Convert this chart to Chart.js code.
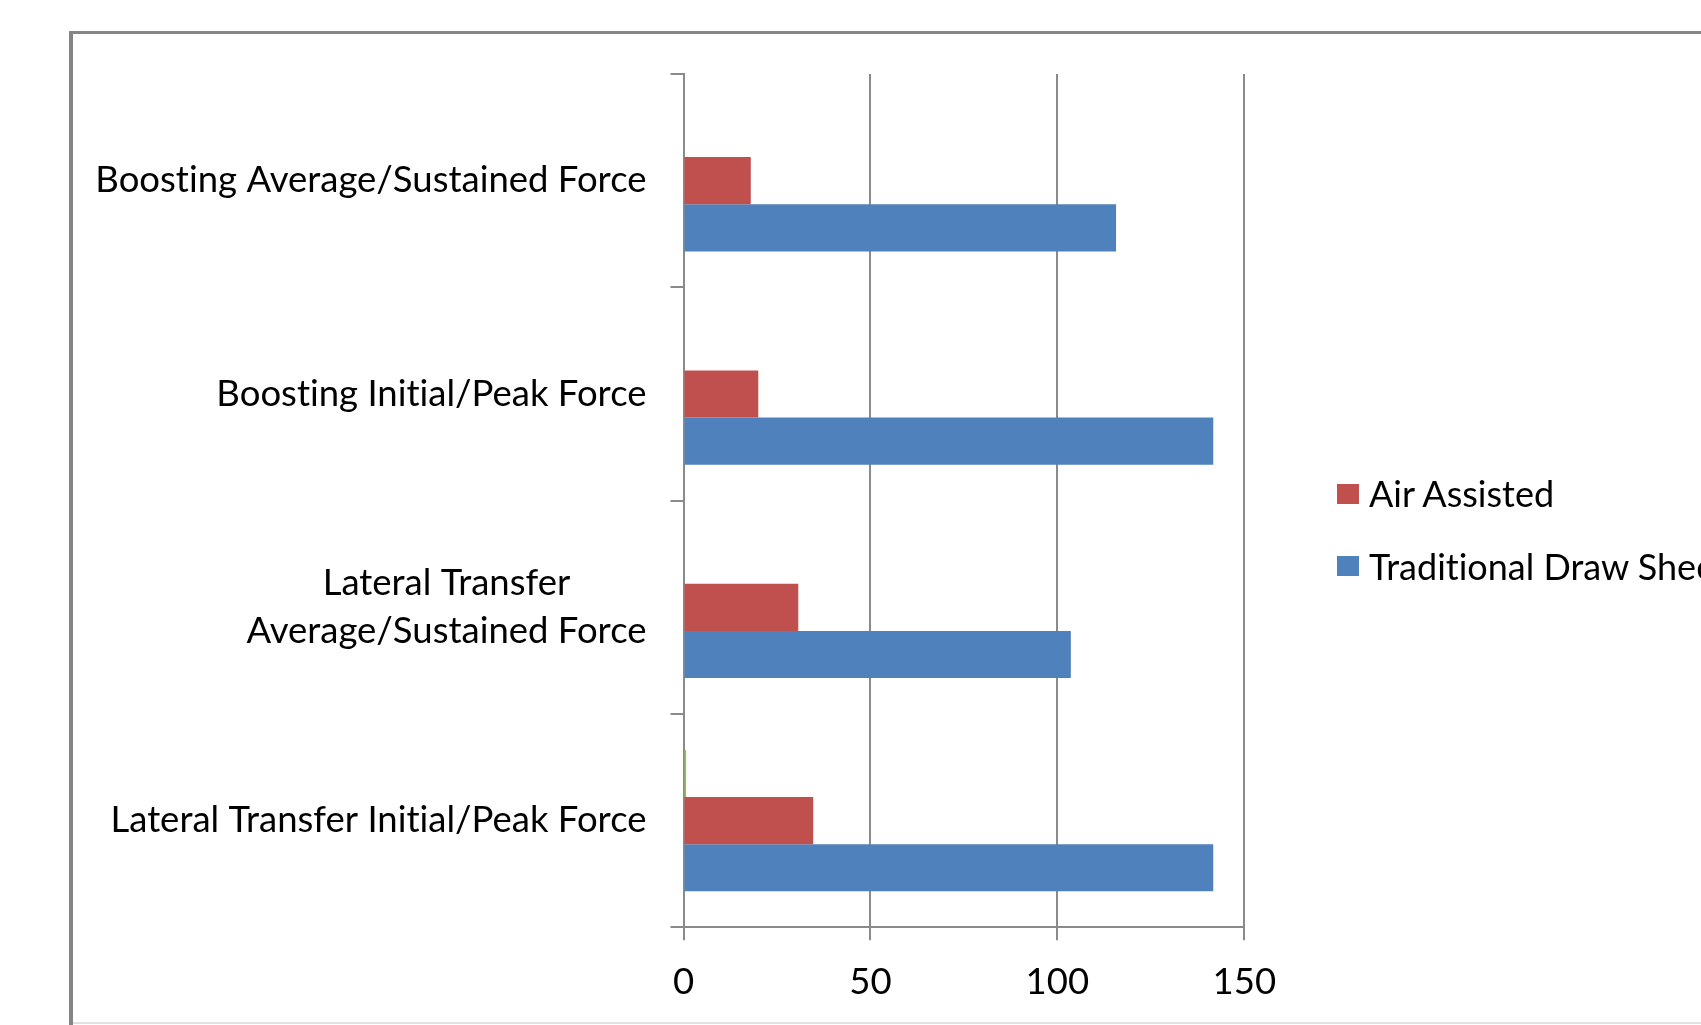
<!DOCTYPE html>
<html>
<head>
<meta charset="utf-8">
<script src="https://cdn.jsdelivr.net/npm/chart.js@4"></script>
<style>
    html, body { margin: 0; padding: 0; width: 1701px; height: 1025px; overflow: hidden; background: #fff; }
    #frame { position: absolute; left: 69px; top: 31px; width: 1800px; height: 1100px;
             border-left: 4px solid #858585; border-top: 3px solid #858585; box-sizing: border-box; }
    #bottomLine { position: absolute; left: 73px; top: 1022px; width: 1700px; height: 2px; background: #e2e2e2; }
    #chart { position: absolute; left: 0; top: 0; }
    #legend { position: absolute; left: 1337px; top: 476px; font: 36px Lato, sans-serif; color: #000;
              white-space: nowrap; font-variant-ligatures: none; }
    .item { display: flex; align-items: center; height: 35px; line-height: 35px; margin-bottom: 37.5px; }
    .box { width: 22px; height: 20px; margin-right: 10px; flex: none; }
</style>
</head>
<body>
<div id="frame"></div>
<div id="bottomLine"></div>
<canvas id="chart" width="1701" height="1025"></canvas>
<div id="legend"></div>
<script>
const categories = [
    ["Boosting Average/Sustained Force"],
    ["Boosting Initial/Peak Force"],
    ["Lateral Transfer", "Average/Sustained Force"],
    ["Lateral Transfer Initial/Peak Force"]
];
const series3 = [null, null, null, 0.7];
const airAssisted = [18, 20, 30.7, 34.7];
const traditionalDrawSheet = [115.7, 141.7, 103.6, 141.7];
const xTicks = [0, 50, 100, 150];

const axisGrey = "#8a8a8a";
const labelFont = {family: "Lato", size: 36.5};

// y labels drawn by hand: block right-aligned, lines centred inside it (like Excel)
const catLabels = {
    id: "catLabels",
    afterDraw(chart) {
        const ctx = chart.ctx;
        const y = chart.scales.y;
        const right = chart.chartArea.left - 37;
        const lineH = 47.5;
        ctx.save();
        ctx.font = `${labelFont.size}px ${labelFont.family}`;
        ctx.textRendering = "optimizeSpeed";
        ctx.fillStyle = "#000";
        ctx.textAlign = "center";
        ctx.textBaseline = "middle";
        chart.data.labels.forEach((lines, i) => {
            const cy = y.getPixelForTick(i);
            const w = Math.max(...lines.map(l => ctx.measureText(l).width));
            const cx = right - w / 2;
            const y0 = cy - (lines.length - 1) * lineH / 2;
            lines.forEach((l, j) => ctx.fillText(l, cx, y0 + j * lineH));
        });
        ctx.restore();
    }
};

const data = {
    labels: categories,
    datasets: [{
        label: "Series3",
        data: series3,
        backgroundColor: "#9BBB59",
        inLegend: false
    }, {
        label: "Air Assisted",
        data: airAssisted,
        backgroundColor: "#C0504D",
        inLegend: true
    }, {
        label: "Traditional Draw Sheet",
        data: traditionalDrawSheet,
        backgroundColor: "#4F81BD",
        inLegend: true
    }]
};

const config = {
    type: "bar",
    data: data,
    options: {
        indexAxis: "y",
        responsive: false,
        animation: false,
        devicePixelRatio: 1,
        categoryPercentage: 0.663,
        barPercentage: 1,
        layout: {padding: {top: 74, right: 456.7, left: 0, bottom: 0}},
        plugins: {
            legend: {display: false},
            tooltip: {enabled: false}
        },
        scales: {
            x: {
                min: 0,
                max: 150,
                afterBuildTicks: s => { s.ticks = xTicks.map(v => ({value: v})); },
                afterFit: s => { s.height = 97.7; },
                grid: {color: axisGrey, lineWidth: 2, tickLength: 13},
                border: {color: axisGrey, width: 2},
                ticks: {font: labelFont, color: "#000", padding: 20, maxRotation: 0}
            },
            y: {
                afterFit: s => { s.width = 683.5; },
                grid: {drawOnChartArea: false, offset: true, color: axisGrey, lineWidth: 2, tickLength: 13},
                border: {color: axisGrey, width: 2},
                ticks: {display: false}
            }
        }
    },
    plugins: [catLabels]
};

new Chart(document.getElementById("chart"), config);

const legend = document.getElementById("legend");
for (const ds of data.datasets.filter(d => d.inLegend)) {
    const item = document.createElement("div");
    item.className = "item";
    const box = document.createElement("span");
    box.className = "box";
    box.style.background = ds.backgroundColor;
    item.appendChild(box);
    item.appendChild(document.createTextNode(ds.label));
    legend.appendChild(item);
}
</script>
</body>
</html>
